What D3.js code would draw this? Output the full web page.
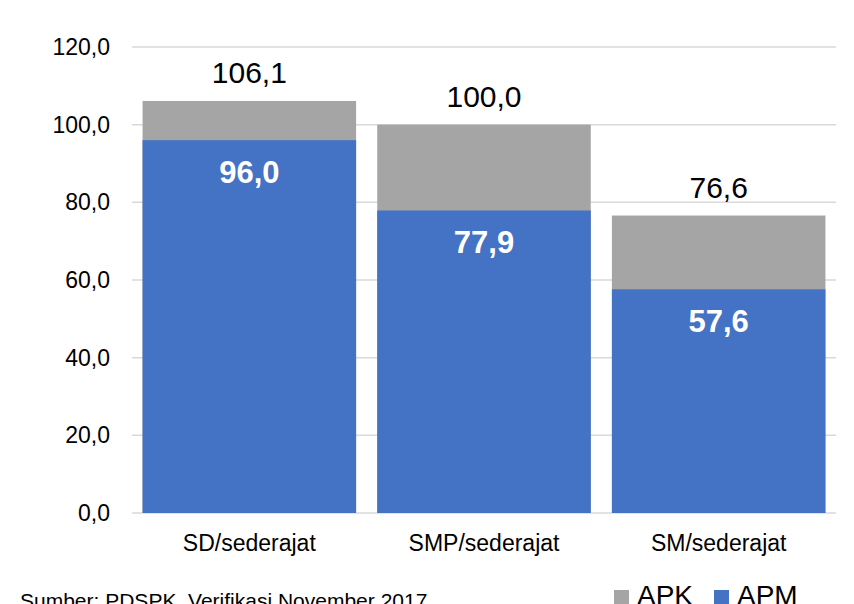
<!DOCTYPE html>
<html>
<head>
<meta charset="utf-8">
<script src="https://cdn.jsdelivr.net/npm/d3@7"></script>
<style>
  body { margin: 0; background: #fff; }
  svg text { font-family: "Liberation Sans", Arial, sans-serif; }
</style>
</head>
<body>
<div id="chart"></div>
<script>
var categories = ["SD/sederajat", "SMP/sederajat", "SM/sederajat"];
var apk = [106.1, 100.0, 76.6];
var apm = [96.0, 77.9, 57.6];
var yTicks = [0, 20, 40, 60, 80, 100, 120];

var width = 854, height = 604;
var margin = {top: 47, right: 18, bottom: 91, left: 132};

var fmt = function(v) { return d3.format(".1f")(v).replace(".", ","); };

var svg = d3.select("#chart").append("svg")
    .attr("width", width)
    .attr("height", height);

var x = d3.scaleBand()
    .domain(categories)
    .range([margin.left, width - margin.right])
    .paddingInner(0.09)
    .paddingOuter(0.045);

var y = d3.scaleLinear()
    .domain([0, 120])
    .range([height - margin.bottom, margin.top]);

// gridlines
svg.append("g")
    .selectAll("line")
    .data(yTicks)
    .enter().append("line")
    .attr("x1", margin.left)
    .attr("x2", width - margin.right)
    .attr("y1", function(d) { return y(d); })
    .attr("y2", function(d) { return y(d); })
    .attr("stroke", "#d9d9d9")
    .attr("stroke-width", 1.5);

// y axis labels
var yAxis = d3.axisLeft(y).tickValues(yTicks).tickFormat(fmt).tickSize(0).tickPadding(22);
var ya = svg.append("g")
    .attr("transform", "translate(" + margin.left + ",0)")
    .call(yAxis);
ya.select(".domain").remove();
ya.selectAll("text")
    .attr("font-size", 23)
    .attr("fill", "#000");

var data = categories.map(function(c, i) { return {cat: c, apk: apk[i], apm: apm[i]}; });

// APK (gray, full height)
svg.append("g")
    .selectAll("rect")
    .data(data)
    .enter().append("rect")
    .attr("x", function(d) { return x(d.cat); })
    .attr("width", x.bandwidth())
    .attr("y", function(d) { return y(d.apk); })
    .attr("height", function(d) { return y(0) - y(d.apk); })
    .attr("fill", "#a5a5a5");

// APM (blue)
svg.append("g")
    .selectAll("rect")
    .data(data)
    .enter().append("rect")
    .attr("x", function(d) { return x(d.cat); })
    .attr("width", x.bandwidth())
    .attr("y", function(d) { return y(d.apm); })
    .attr("height", function(d) { return y(0) - y(d.apm); })
    .attr("fill", "#4472c4");

// APK labels above
svg.append("g")
    .selectAll("text")
    .data(data)
    .enter().append("text")
    .attr("x", function(d) { return x(d.cat) + x.bandwidth() / 2; })
    .attr("y", function(d) { return y(d.apk) - 18; })
    .attr("text-anchor", "middle")
    .attr("font-size", 30)
    .attr("fill", "#000")
    .text(function(d) { return fmt(d.apk); });

// APM labels inside
svg.append("g")
    .selectAll("text")
    .data(data)
    .enter().append("text")
    .attr("x", function(d) { return x(d.cat) + x.bandwidth() / 2; })
    .attr("y", function(d) { return y(d.apm) + 43; })
    .attr("text-anchor", "middle")
    .attr("font-size", 31)
    .attr("font-weight", "bold")
    .attr("fill", "#fff")
    .text(function(d) { return fmt(d.apm); });

// category labels
var xAxis = d3.axisBottom(x).tickSize(0).tickPadding(22);
var xa = svg.append("g")
    .attr("transform", "translate(0," + y(0) + ")")
    .call(xAxis);
xa.select(".domain").remove();
xa.selectAll("text")
    .attr("font-size", 23)
    .attr("fill", "#000");

// source
svg.append("text")
    .attr("x", 20)
    .attr("y", 608)
    .attr("font-size", 21)
    .attr("fill", "#000")
    .text("Sumber: PDSPK, Verifikasi November 2017");

// legend
var legend = [{name: "APK", color: "#a5a5a5", x: 614}, {name: "APM", color: "#4472c4", x: 714}];
var lg = svg.append("g").selectAll("g")
    .data(legend)
    .enter().append("g");
lg.append("rect")
    .attr("x", function(d) { return d.x; })
    .attr("y", 590)
    .attr("width", 15)
    .attr("height", 15)
    .attr("fill", function(d) { return d.color; });
lg.append("text")
    .attr("x", function(d) { return d.x + 23; })
    .attr("y", 605)
    .attr("font-size", 28)
    .attr("fill", "#000")
    .text(function(d) { return d.name; });
</script>
</body>
</html>
